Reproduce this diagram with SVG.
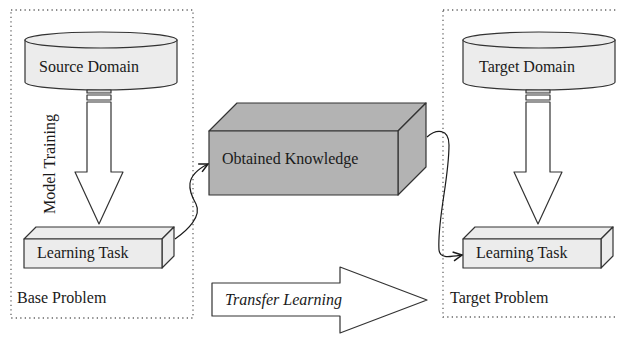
<svg xmlns="http://www.w3.org/2000/svg" width="617" height="337" viewBox="0 0 617 337">
<defs>
<style>
text{font-family:"Liberation Serif","Times New Roman",serif;fill:#1a1a1a;font-size:16px}
.frame{fill:none;stroke:#666;stroke-width:1.3;stroke-dasharray:1.3 3.2}
.ln{stroke:#333;stroke-width:1.2;stroke-linejoin:round}
.light{fill:#ececec}
.dark{fill:#b3b3b3}
.white{fill:#fff}
.conn{fill:none;stroke:#1a1a1a;stroke-width:1.2}
</style>
<marker id="ah" viewBox="0 0 10 10" refX="9" refY="5" markerWidth="11" markerHeight="11" markerUnits="userSpaceOnUse" orient="auto">
<polyline points="1,1 9,5 1,9" fill="none" stroke="#1a1a1a" stroke-width="1.4"/>
</marker>
</defs>

<g id="base-problem">
<rect class="frame" x="11" y="10" width="182" height="308"/>
<text x="17" y="303">Base Problem</text>
</g>

<g id="target-problem">
<rect class="frame" x="443" y="10" width="180" height="307"/>
<text x="450" y="303">Target Problem</text>
</g>

<g id="source-domain">
<path class="ln light" d="M25,40 V82 A76,8 0 0 0 177,82 V40 Z"/>
<ellipse class="ln light" cx="101" cy="40" rx="76" ry="8"/>
<text x="39" y="72">Source Domain</text>
</g>

<g id="source-arrow">
<rect class="ln" fill="#d8d8d8" x="87" y="90" width="24" height="3"/>
<rect class="ln white" x="87" y="95" width="24" height="5"/>
<polygon class="ln white" points="87,102 111,102 111,172 123,172 99,224 75,172 87,172"/>
</g>

<g id="model-training">
<text transform="translate(55,214) rotate(-90)" font-size="15">Model Training</text>
</g>

<g id="base-task">
<polygon class="ln light" points="24,239 36,227 174,227 162,239"/>
<polygon class="ln light" points="162,239 174,227 174,256 162,268"/>
<rect class="ln light" x="24" y="239" width="138" height="29"/>
<text x="37" y="258">Learning Task</text>
</g>

<g id="knowledge">
<polygon class="ln dark" points="209,131 237,103 426,103 398,131"/>
<polygon class="ln dark" points="398,131 426,103 426,167 398,195"/>
<rect class="ln dark" x="209" y="131" width="189" height="64"/>
<text x="222" y="164">Obtained Knowledge</text>
</g>

<g id="target-domain">
<path class="ln light" d="M463,40 V82 A76,8 0 0 0 615,82 V40 Z"/>
<ellipse class="ln light" cx="539" cy="40" rx="76" ry="8"/>
<text x="479" y="72">Target Domain</text>
</g>

<g id="target-arrow">
<rect class="ln" fill="#d8d8d8" x="526" y="90" width="24" height="3"/>
<rect class="ln white" x="526" y="95" width="24" height="5"/>
<polygon class="ln white" points="526,102 550,102 550,172 562,172 538,224 514,172 526,172"/>
</g>

<g id="target-task">
<polygon class="ln light" points="463,239 475,227 613,227 601,239"/>
<polygon class="ln light" points="601,239 613,227 613,256 601,268"/>
<rect class="ln light" x="463" y="239" width="138" height="29"/>
<text x="476" y="258">Learning Task</text>
</g>

<g id="transfer-learning">
<polygon class="ln white" points="212,283 340,283 340,267 427,300 340,333 340,316 212,316"/>
<text x="225" y="305" font-style="italic" font-size="18">Transfer Learning</text>
</g>

<g id="connectors">
<path class="conn" marker-end="url(#ah)" d="M175,239 C188,230 202,216 196,204 C188,190 184,176 208,164"/>
<path class="conn" marker-end="url(#ah)" d="M427,137 C436,129 449,128 449,145 C449,180 437,220 439,250 C440,259 450,257 462,255"/>
</g>
</svg>
